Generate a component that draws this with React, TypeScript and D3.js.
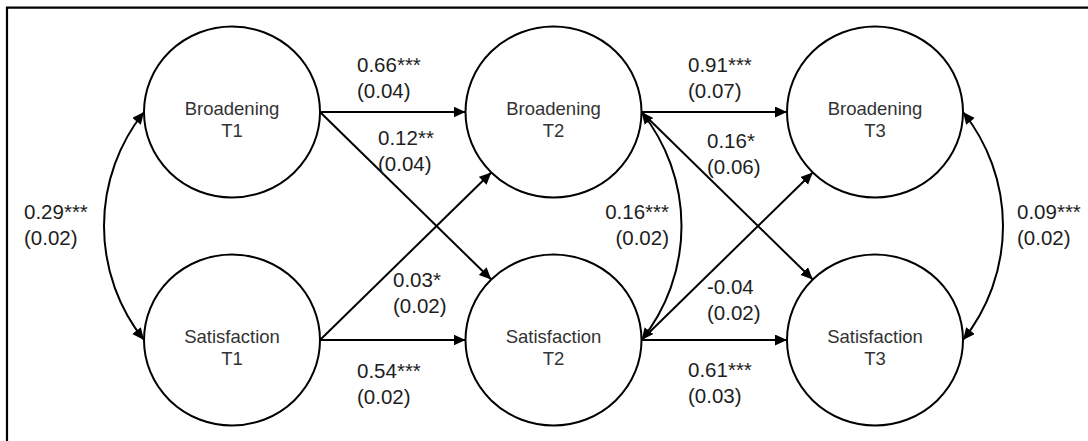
import React, { useEffect, useRef } from 'react'
import * as d3 from 'd3'

// constructs and measurement waves
const constructs = ['Broadening', 'Satisfaction']
const waves = ['T1', 'T2', 'T3']

// autoregressive + cross-lagged paths
const regressions = [
  { id: 'b1b2', from: ['Broadening', 'T1'], to: ['Broadening', 'T2'], est: 0.66, sig: '***', se: 0.04 },
  { id: 'b1s2', from: ['Broadening', 'T1'], to: ['Satisfaction', 'T2'], est: 0.12, sig: '**', se: 0.04 },
  { id: 's1b2', from: ['Satisfaction', 'T1'], to: ['Broadening', 'T2'], est: 0.03, sig: '*', se: 0.02 },
  { id: 's1s2', from: ['Satisfaction', 'T1'], to: ['Satisfaction', 'T2'], est: 0.54, sig: '***', se: 0.02 },
  { id: 'b2b3', from: ['Broadening', 'T2'], to: ['Broadening', 'T3'], est: 0.91, sig: '***', se: 0.07 },
  { id: 'b2s3', from: ['Broadening', 'T2'], to: ['Satisfaction', 'T3'], est: 0.16, sig: '*', se: 0.06 },
  { id: 's2b3', from: ['Satisfaction', 'T2'], to: ['Broadening', 'T3'], est: -0.04, sig: '', se: 0.02 },
  { id: 's2s3', from: ['Satisfaction', 'T2'], to: ['Satisfaction', 'T3'], est: 0.61, sig: '***', se: 0.03 },
]

// within-wave covariances
const covariances = [
  { id: 'c1', wave: 'T1', side: 'left', est: 0.29, sig: '***', se: 0.02 },
  { id: 'c2', wave: 'T2', side: 'right', est: 0.16, sig: '***', se: 0.02 },
  { id: 'c3', wave: 'T3', side: 'right', est: 0.09, sig: '***', se: 0.02 },
]

// where each coefficient label sits (first baseline)
const labelAt: Record<string, { x: number; y: number; anchor?: string }> = {
  c1: { x: 24, y: 219 },
  b1b2: { x: 357, y: 72 },
  b1s2: { x: 378, y: 145 },
  s1b2: { x: 393, y: 287 },
  s1s2: { x: 357, y: 378 },
  c2: { x: 669, y: 219, anchor: 'end' },
  b2b3: { x: 688, y: 72 },
  b2s3: { x: 707, y: 148 },
  s2b3: { x: 707, y: 294 },
  s2s3: { x: 688, y: 377 },
  c3: { x: 1017, y: 219 },
}

const W = 1088
const H = 441
const RX = 88
const RY = 85.5
const FONT = "'Liberation Sans', Arial, Helvetica, sans-serif"

export default function App() {
  const ref = useRef<SVGSVGElement>(null)

  useEffect(() => {
    if (!ref.current) return
    const svg = d3.select(ref.current)
    svg.selectAll('*').remove()

    const x = d3.scalePoint<string>().domain(waves).range([232, 875])
    const y = d3.scalePoint<string>().domain(constructs).range([112, 340])

    svg.append('rect').attr('width', W).attr('height', H).attr('fill', '#fff')

    // arrowhead
    svg.append('defs')
      .append('marker')
      .attr('id', 'arrow')
      .attr('markerUnits', 'userSpaceOnUse')
      .attr('markerWidth', 13)
      .attr('markerHeight', 12)
      .attr('refX', 12)
      .attr('refY', 5.5)
      .attr('orient', 'auto-start-reverse')
      .append('path')
      .attr('d', 'M0,0 L12,5.5 L0,11 Z')
      .attr('fill', '#000')

    // cropped frame (only top + left visible)
    svg.append('path')
      .attr('d', `M7,${H} L7,7.7 L${W},7.7`)
      .attr('fill', 'none')
      .attr('stroke', '#000')
      .attr('stroke-width', 2.2)

    // regression arrows
    const c45 = Math.SQRT1_2
    regressions.forEach(r => {
      const x1 = x(r.from[1])! + RX
      const y1 = y(r.from[0])!
      const cx2 = x(r.to[1])!
      const cy2 = y(r.to[0])!
      let x2 = cx2 - RX
      let y2 = cy2
      if (r.from[0] !== r.to[0]) {
        x2 = cx2 - RX * c45
        y2 = cy2 + (y1 < cy2 ? -1 : 1) * RY * c45
      }
      svg.append('line')
        .attr('x1', x1).attr('y1', y1)
        .attr('x2', x2).attr('y2', y2)
        .attr('stroke', '#000')
        .attr('stroke-width', 2)
        .attr('marker-end', 'url(#arrow)')
    })

    // covariance arcs
    const bulge = 40
    covariances.forEach(c => {
      const xe = x(c.wave)! + (c.side === 'left' ? -RX : RX)
      const y1 = y(constructs[0])!
      const y2 = y(constructs[1])!
      const h = (y2 - y1) / 2
      const R = (h * h + bulge * bulge) / (2 * bulge)
      const sweep = c.side === 'left' ? 0 : 1
      svg.append('path')
        .attr('d', `M${xe},${y1} A${R},${R} 0 0 ${sweep} ${xe},${y2}`)
        .attr('fill', 'none')
        .attr('stroke', '#000')
        .attr('stroke-width', 2)
        .attr('marker-start', 'url(#arrow)')
        .attr('marker-end', 'url(#arrow)')
    })

    // latent nodes
    const nodes = constructs.flatMap(k => waves.map(w => ({ k, w })))
    const g = svg.append('g')
      .selectAll('g')
      .data(nodes)
      .join('g')
      .attr('transform', d => `translate(${x(d.w)},${y(d.k)})`)
    g.append('ellipse')
      .attr('rx', RX).attr('ry', RY)
      .attr('fill', 'none')
      .attr('stroke', '#000')
      .attr('stroke-width', 2)
    g.append('text')
      .attr('text-anchor', 'middle')
      .attr('y', 3)
      .style('font-family', FONT)
      .style('font-size', '18.5px')
      .style('fill', '#333')
      .text(d => d.k)
    g.append('text')
      .attr('text-anchor', 'middle')
      .attr('y', 25)
      .style('font-family', FONT)
      .style('font-size', '18.5px')
      .style('fill', '#333')
      .text(d => d.w)

    // coefficient labels
    const all = [...regressions, ...covariances]
    all.forEach(p => {
      const pos = labelAt[p.id]
      const t = svg.append('text')
        .attr('x', pos.x)
        .attr('y', pos.y)
        .attr('text-anchor', pos.anchor || 'start')
        .style('font-family', FONT)
        .style('font-size', '20.5px')
        .style('fill', '#1e1e1e')
      t.append('tspan').text(p.est.toFixed(2) + p.sig)
      t.append('tspan')
        .attr('x', pos.x)
        .attr('dy', 25.5)
        .text(`(${p.se.toFixed(2)})`)
    })
  }, [])

  return (
    <svg
      ref={ref}
      width={W}
      height={H}
      style={{ position: 'absolute', left: 0, top: 0, display: 'block' }}
    />
  )
}
